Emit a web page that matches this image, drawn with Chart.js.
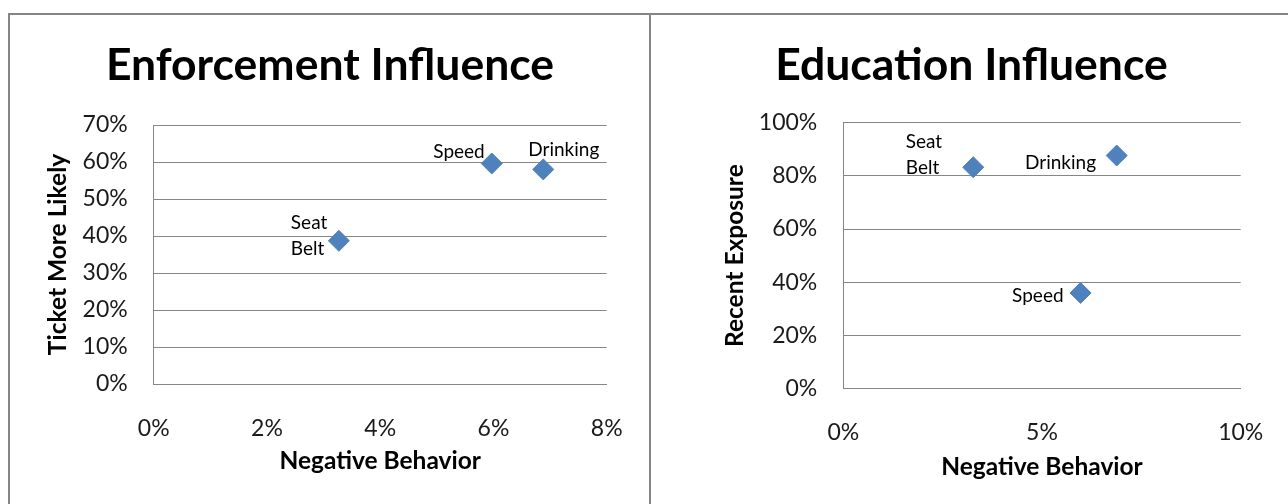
<!DOCTYPE html>
<html>
<head>
<meta charset="utf-8">
<script src="https://cdn.jsdelivr.net/npm/chart.js@4.4.1/dist/chart.umd.min.js"></script>
<style>
  html, body { margin: 0; padding: 0; background: #fff; }
  body { width: 1288px; height: 504px; position: relative; overflow: hidden; }
  .frame-left {
    position: absolute; left: 8px; top: 13px; width: 643px; height: 500px;
    box-sizing: border-box; border: 2px solid #858585; border-bottom: none;
  }
  .frame-right {
    position: absolute; left: 651px; top: 13px; width: 640px; height: 500px;
    box-sizing: border-box; border-top: 2px solid #858585;
  }
  canvas { position: absolute; top: 0; }
  #enforcementChart { left: 0; }
  #educationChart { left: 650px; }
</style>
</head>
<body>
<div class="frame-left"></div>
<div class="frame-right"></div>
<canvas id="enforcementChart" width="650" height="504"></canvas>
<canvas id="educationChart" width="638" height="504"></canvas>
<script>
  "use strict";

  // behaviours plotted in both charts (values in %)
  const behaviors = ["Seat Belt", "Speed", "Drinking"];
  const negativeBehavior = [3.27, 5.97, 6.88];
  const ticketMoreLikely = [38.7, 59.6, 58.0];
  const recentExposure = [83.2, 36.0, 87.6];

  const FONT = "Lato, Calibri, 'Open Sans', sans-serif";
  const GRID = "#868686";
  const MARKER = "#4F81BD";

  /*Draws the category name next to each marker*/
  const pointLabels = {
    id: "pointLabels",
    afterDatasetsDraw(chart, args, opts) {
      const ctx = chart.ctx;
      const meta = chart.getDatasetMeta(0);
      ctx.save();
      ctx.font = "19px " + FONT;
      ctx.fillStyle = "#000";
      ctx.textBaseline = "alphabetic";
      meta.data.forEach((pt, i) => {
        const place = opts.places[i];
        const lines = place.wrap ? behaviors[i].split(" ") : [behaviors[i]];
        ctx.textAlign = place.align;
        lines.forEach((line, j) => {
          ctx.fillText(line, pt.x + place.dx, pt.y + place.dy + j * 26);
        });
      });
      ctx.restore();
    },
  };

  function scatterChart(canvasId, opts) {
    const ctx = document.getElementById(canvasId).getContext("2d");
    return new Chart(ctx, {
      type: "scatter",
      data: {
        datasets: [
          {
            label: opts.yTitle,
            data: negativeBehavior.map((x, i) => ({ x: x, y: opts.values[i] })),
            pointStyle: "rectRot",
            pointRadius: 10.5,
            pointHoverRadius: 10.5,
            backgroundColor: MARKER,
            borderColor: MARKER,
            borderWidth: 1,
          },
        ],
      },
      options: {
        responsive: false,
        animation: false,
        devicePixelRatio: 1,
        layout: { padding: opts.padding },
        plugins: {
          legend: { display: false },
          tooltip: { enabled: false },
          title: {
            display: true,
            text: opts.title,
            color: "#000",
            font: { family: FONT, size: opts.titleSize, weight: "bold", lineHeight: 1 },
            padding: { top: 0, bottom: opts.titleGap },
          },
          pointLabels: { places: opts.places },
        },
        scales: {
          x: {
            min: 0,
            max: opts.xMax,
            afterFit: (s) => { s.height = opts.xAxisHeight; },
            grid: { display: false },
            border: { display: true, color: GRID, width: 1 },
            ticks: {
              stepSize: opts.xStep,
              padding: opts.xTickPad,
              color: "#1a1a1a",
              font: { family: FONT, size: 23, lineHeight: 1.2 },
              callback: (v) => v + "%",
            },
            title: {
              display: true,
              text: "Negative Behavior",
              color: "#000",
              font: { family: FONT, size: 24.5, weight: "bold", lineHeight: 1.2 },
              padding: { top: 0, bottom: opts.xTitlePad },
            },
          },
          y: {
            min: 0,
            max: opts.yMax,
            afterFit: (s) => { s.width = opts.yAxisWidth; },
            grid: { color: GRID, lineWidth: 1, drawTicks: false },
            border: { display: true, color: GRID, width: 1 },
            ticks: {
              stepSize: opts.yStep,
              padding: 26,
              color: "#1a1a1a",
              font: { family: FONT, size: 23, lineHeight: 1.2 },
              callback: (v) => v + "%",
            },
            title: {
              display: true,
              text: opts.yTitle,
              color: "#000",
              font: { family: FONT, size: 24.5, weight: "bold", lineHeight: 1.2 },
              padding: { top: opts.yTitlePad, bottom: 0 },
            },
          },
        },
      },
      plugins: [pointLabels],
    });
  }

  /*Enforcement Influence Chart*/
  scatterChart("enforcementChart", {
    title: "Enforcement Influence",
    titleSize: 44.5,
    yTitle: "Ticket More Likely",
    values: ticketMoreLikely,
    xMax: 8, xStep: 2, yMax: 70, yStep: 10,
    padding: { left: 53.3, top: 43.3, right: 43.3, bottom: 0 },
    titleGap: 37.2,
    yAxisWidth: 100.4,
    yTitlePad: -9.5,
    xAxisHeight: 120,
    xTickPad: 23,
    xTitlePad: 28.3,
    places: [
      { align: "left", dx: -48, dy: -12, wrap: true },
      { align: "right", dx: -7, dy: -5 },
      { align: "left", dx: -15, dy: -13 },
    ],
  });

  /*Education Influence Chart*/
  scatterChart("educationChart", {
    title: "Education Influence",
    titleSize: 44.5,
    yTitle: "Recent Exposure",
    values: recentExposure,
    xMax: 10, xStep: 5, yMax: 100, yStep: 20,
    padding: { left: 52.3, top: 43.3, right: 47.3, bottom: 0 },
    titleGap: 34.7,
    yAxisWidth: 141,
    yTitlePad: 18.5,
    xAxisHeight: 115.2,
    xTickPad: 22.1,
    xTitlePad: 22.3,
    places: [
      { align: "left", dx: -67.5, dy: -19.3, wrap: true },
      { align: "right", dx: -17, dy: 9 },
      { align: "right", dx: -20.7, dy: 13.3 },
    ],
  });
</script>
</body>
</html>
